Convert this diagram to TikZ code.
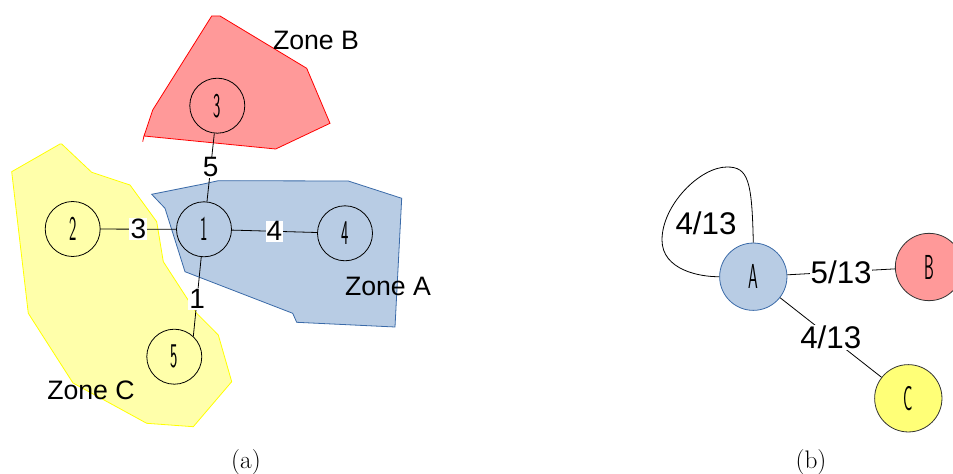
\documentclass[tikz,border=0pt]{standalone}
\usepackage{fontspec}
\newfontfamily\arialf{Liberation Sans}
\definecolor{zoneBfill}{HTML}{FF9999}
\definecolor{zoneBline}{HTML}{FF0000}
\definecolor{zoneAfill}{HTML}{B8CCE4}
\definecolor{zoneAline}{HTML}{3A6AA8}
\definecolor{zoneCfill}{HTML}{FFFFAA}
\definecolor{zoneCline}{HTML}{FFFF00}
\definecolor{nodeCfill}{HTML}{FFFF77}
\newcommand\hwglyph[1]{\scalebox{0.45}[1]{\sffamily\fontsize{26}{26}\selectfont #1}}
\begin{document}
\begin{tikzpicture}[x=0.75pt,y=-0.75pt,
  vert/.style={circle, draw=black, line width=0.6pt, minimum size=41.25pt, inner sep=0pt},
  bigvert/.style={circle, draw=black!80, line width=0.6pt, minimum size=50.5pt, inner sep=0pt},
  conn/.style={draw=black, line width=0.6pt},
  elab/.style={fill=white, inner sep=0.8pt, font=\arialf\fontsize{21}{21}\selectfont},
  blab/.style={fill=white, inner sep=0.6pt, font=\arialf\fontsize{23.5}{23.5}\selectfont},
  zonelab/.style={inner sep=0pt, font=\arialf\fontsize{20}{20}\selectfont},
  caplab/.style={inner sep=0pt, font=\fontsize{19}{19}\selectfont}]
\useasboundingbox (0,0) rectangle (953,474);

% zones
\draw[fill=zoneBfill, draw=zoneBline, line width=0.6pt]
  (152.7,110) -- (211.7,16) -- (220,16) -- (306.7,68.3) -- (330,123.3)
  -- (275.7,149) -- (144,136) -- cycle;
\draw[draw=zoneBline, line width=0.6pt] (144,136) -- (142.7,141.7);
\draw[fill=zoneCfill, draw=zoneCline, line width=0.6pt]
  (11.7,171.7) -- (60,144) -- (61.7,144) -- (91.7,172.3) -- (130,185)
  -- (156.7,221.7) -- (163.3,261.7) -- (196.7,313.3) -- (218.3,335)
  -- (231.7,381.7) -- (193.3,426.7) -- (146.7,423.3) -- (73,383)
  -- (28.3,313.3) -- cycle;
\draw[fill=zoneAfill, draw=zoneAline, line width=0.6pt]
  (151.7,194.3) -- (203.3,184) -- (218.3,180.7) -- (348.3,181) -- (401.7,198.3)
  -- (395,327) -- (296.7,322.3) -- (292.7,313.3) -- (185,271.7)
  -- (165,208.3) -- cycle;

\node[zonelab] (zB) at (316,40) {Zone B};
\node[zonelab] (zA) at (388,286) {Zone A};
\node[zonelab] (zC) at (91,390) {Zone C};

% graph (a)
\node[vert] (n1) at (204,229.3) {\hwglyph{1}};
\node[vert] (n2) at (72.7,229) {\hwglyph{2}};
\node[vert] (n3) at (217.3,105.7) {\hwglyph{3}};
\node[vert] (n4) at (345,233.3) {\hwglyph{4}};
\node[vert] (n5) at (174.3,356.7) {\hwglyph{5}};

\draw[conn] (n3) -- node[elab] (e5) {5} (n1);
\draw[conn] (n2) -- node[elab] (e3) {3} (n1);
\draw[conn] (n1) -- node[elab] (e4) {4} (n4);
\draw[conn] (n1) -- node[elab, pos=0.53] (e1) {1} (n5.47);

% graph (b)
\node[bigvert, fill=zoneAfill, draw=zoneAline] (A) at (753.3,276.7) {\hwglyph{A}};
\node[bigvert, fill=zoneBfill] (B) at (929,267) {\hwglyph{B}};
\node[bigvert, fill=nodeCfill] (C) at (908.3,398.3) {\hwglyph{C}};

\draw[conn] (A.north) .. controls (752,180) and (748,167) .. (727,167)
  .. controls (700,167) and (662,205) .. (662,240)
  .. controls (662,270) and (700,277) .. (A.west);
\node[inner sep=0pt, font=\arialf\fontsize{23.5}{23.5}\selectfont] (lAA) at (706,223) {4/13};
\draw[conn] (A) -- node[blab] (lAB) {5/13} (B);
\draw[conn] (A) -- node[blab] (lAC) {4/13} (C);

\node[caplab] (capa) at (246,462) {(a)};
\node[caplab] (capb) at (811,462) {(b)};
\end{tikzpicture}
\end{document}
